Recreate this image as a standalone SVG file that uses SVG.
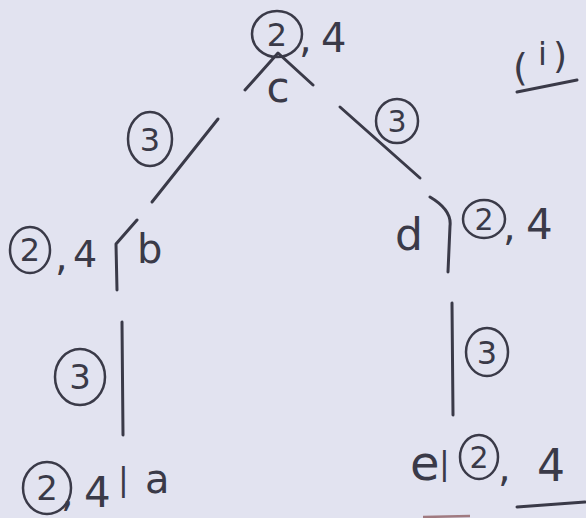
<svg xmlns="http://www.w3.org/2000/svg" width="586" height="518" viewBox="0 0 586 518">
<style>
.t{font-family:"DejaVu Sans","Liberation Sans",sans-serif;fill:#3a3a48}
.m{text-anchor:middle}
.c{fill:none;stroke:#3a3a48;stroke-width:2.5}
.e{fill:none;stroke:#3a3a48;stroke-width:3;stroke-linecap:round;stroke-linejoin:round}
</style>
<rect width="586" height="518" fill="#e2e3f0"/>
<g id="connectors">
<path class="e" d="M245,90 L278,53 L313,85"/>
<path class="e" d="M218,119 L152,202"/>
<path class="e" d="M340,107 L420,178"/>
<path class="e" d="M137,220 L116,244 L117,290"/>
<path class="e" d="M122,322 L123,435"/>
<path class="e" d="M430,197 Q452,210 450,226 L448,272"/>
<path class="e" d="M452,303 L453,415"/>
</g>
<g id="node-c">
<ellipse class="c" cx="277" cy="34" rx="25" ry="23"/>
<text class="t m" x="277" y="46" font-size="32">2</text>
<text class="t" x="299" y="52" font-size="40">,</text>
<text class="t" x="321" y="52" font-size="40">4</text>
<text class="t m" x="278" y="102" font-size="42">c</text>
</g>
<g id="edge-label-cb">
<ellipse class="c" cx="150" cy="139" rx="22" ry="27"/>
<text class="t m" x="150" y="151" font-size="32">3</text>
</g>
<g id="edge-label-cd">
<ellipse class="c" cx="397" cy="121" rx="21" ry="22"/>
<text class="t m" x="397" y="132" font-size="30">3</text>
</g>
<g id="node-b">
<ellipse class="c" cx="30" cy="250" rx="20" ry="23"/>
<text class="t m" x="30" y="261" font-size="32">2</text>
<text class="t" x="55" y="270" font-size="40">,</text>
<text class="t" x="73" y="267" font-size="38">4</text>
<text class="t" x="137" y="263" font-size="40">b</text>
</g>
<g id="node-d">
<text class="t" x="395" y="250" font-size="44">d</text>
<ellipse class="c" cx="484" cy="219" rx="21" ry="19"/>
<text class="t m" x="484" y="230" font-size="30">2</text>
<text class="t" x="503" y="240" font-size="40">,</text>
<text class="t" x="526" y="239" font-size="42">4</text>
</g>
<g id="edge-label-ba">
<ellipse class="c" cx="80" cy="377" rx="25" ry="28"/>
<text class="t m" x="80" y="389" font-size="34">3</text>
</g>
<g id="edge-label-de">
<ellipse class="c" cx="487" cy="352" rx="21" ry="24"/>
<text class="t m" x="487" y="364" font-size="32">3</text>
</g>
<g id="node-a">
<ellipse class="c" cx="47" cy="488" rx="24" ry="26"/>
<text class="t m" x="47" y="500" font-size="34">2</text>
<text class="t" x="61" y="506" font-size="40">,</text>
<text class="t" x="84" y="507" font-size="42">4</text>
<text class="t" x="118" y="490" font-size="32">|</text>
<text class="t" x="145" y="493" font-size="40">a</text>
</g>
<g id="node-e">
<text class="t" x="410" y="480" font-size="48">e</text>
<text class="t" x="439" y="474" font-size="32">|</text>
<ellipse class="c" cx="479" cy="457" rx="19" ry="22"/>
<text class="t m" x="479" y="468" font-size="30">2</text>
<text class="t" x="498" y="481" font-size="40">,</text>
<text class="t" x="537" y="481" font-size="44">4</text>
</g>
<g id="label-i">
<text class="t" x="513" y="80" font-size="38">(</text>
<text class="t" x="538" y="65" font-size="32">i</text>
<text class="t" x="553" y="68" font-size="36">)</text>
<path class="e" d="M517,92 L577,80"/>
</g>
<path class="e" d="M517,507 L585,502"/>
<path d="M423,517 L470,516" stroke="#a07a80" stroke-width="2.5" fill="none"/>
</svg>
